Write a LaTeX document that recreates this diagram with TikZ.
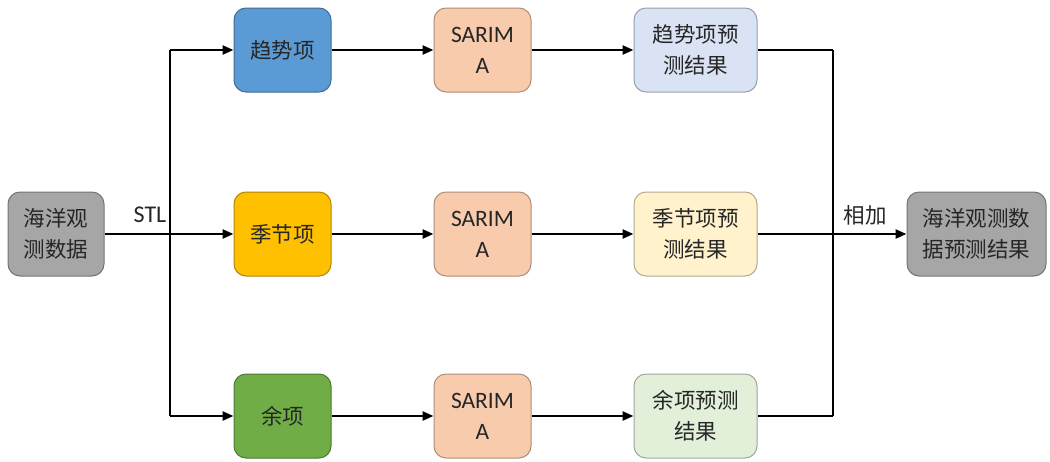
\documentclass[tikz,border=0pt]{standalone}
\usepackage{fontspec}
\setmainfont{Noto Sans CJK SC}
\newfontfamily\latinf{Carlito}
\usetikzlibrary{arrows.meta}
\definecolor{cgray}{HTML}{A6A6A6}
\definecolor{cblue}{HTML}{5B9BD5}
\definecolor{cyel}{HTML}{FFC000}
\definecolor{cgreen}{HTML}{70AD47}
\definecolor{cpeach}{HTML}{F8CBAD}
\definecolor{lblue}{HTML}{DAE3F3}
\definecolor{lyel}{HTML}{FFF2CC}
\definecolor{lgreen}{HTML}{E2F0D9}
\tikzset{
  box/.style={rounded corners=12pt, draw=#1!70!black, line width=1pt, minimum height=84pt, align=center, font=\fontsize{21.5}{31}\selectfont, text=black!85, inner sep=2pt},
  box/.default=cgray,
  sar/.style={box=cpeach, fill=cpeach, minimum width=97pt, font=\latinf\fontsize{23.5}{31}\selectfont},
  arr/.style={line width=2.4pt, -{Triangle[length=11pt,width=9pt]}},
  ln/.style={line width=2.4pt},
}
\begin{document}
\begin{tikzpicture}[x=1pt,y=1pt]
\useasboundingbox (0,0) rectangle (1050,-461);
% input and output
\node[box=cgray, fill=cgray, minimum width=96pt] (src) at (56,-234) {海洋观\\测数据};
\node[box=cgray, fill=cgray, minimum width=139pt] (out) at (976.5,-234) {海洋观测数\\据预测结果};
% components
\node[box=cblue, fill=cblue, minimum width=97pt] (trend) at (282.5,-50) {趋势项};
\node[box=cyel, fill=cyel, minimum width=97pt] (seas) at (282.5,-234) {季节项};
\node[box=cgreen, fill=cgreen, minimum width=97pt] (resid) at (282.5,-416) {余项};
% SARIMA
\node[sar] (s1) at (482.5,-50) {SARIM\\A};
\node[sar] (s2) at (482.5,-234) {SARIM\\A};
\node[sar] (s3) at (482.5,-416) {SARIM\\A};
% results
\node[box=lblue, fill=lblue, minimum width=123pt] (r1) at (695.5,-50) {趋势项预\\测结果};
\node[box=lyel, fill=lyel, minimum width=123pt] (r2) at (695.5,-234) {季节项预\\测结果};
\node[box=lgreen, fill=lgreen, minimum width=123pt] (r3) at (695.5,-416) {余项预测\\结果};
% split
\coordinate (sp) at (170,-234);
\coordinate (spt) at (170,-50);
\coordinate (spb) at (170,-416);
\draw[ln] (src) -- (sp);
\draw[ln] (spt) -- (spb);
\draw[arr] (sp) -- (seas);
\draw[arr] (spt) -- (trend);
\draw[arr] (spb) -- (resid);
\node[font=\latinf\fontsize{24}{26}\selectfont, text=black!85] (stl) at (150,-215) {STL};
% chains
\draw[arr] (trend) -- (s1);
\draw[arr] (seas) -- (s2);
\draw[arr] (resid) -- (s3);
\draw[arr] (s1) -- (r1);
\draw[arr] (s2) -- (r2);
\draw[arr] (s3) -- (r3);
% merge
\coordinate (mg) at (833,-234);
\coordinate (mgt) at (833,-50);
\coordinate (mgb) at (833,-416);
\draw[ln] (r1) -- (mgt);
\draw[ln] (r2) -- (mg);
\draw[ln] (r3) -- (mgb);
\draw[ln] (mgt) -- (mgb);
\draw[arr] (mg) -- (out);
\node[font=\fontsize{21.5}{24}\selectfont, text=black!85] (add) at (865,-215) {相加};
\end{tikzpicture}
\end{document}
